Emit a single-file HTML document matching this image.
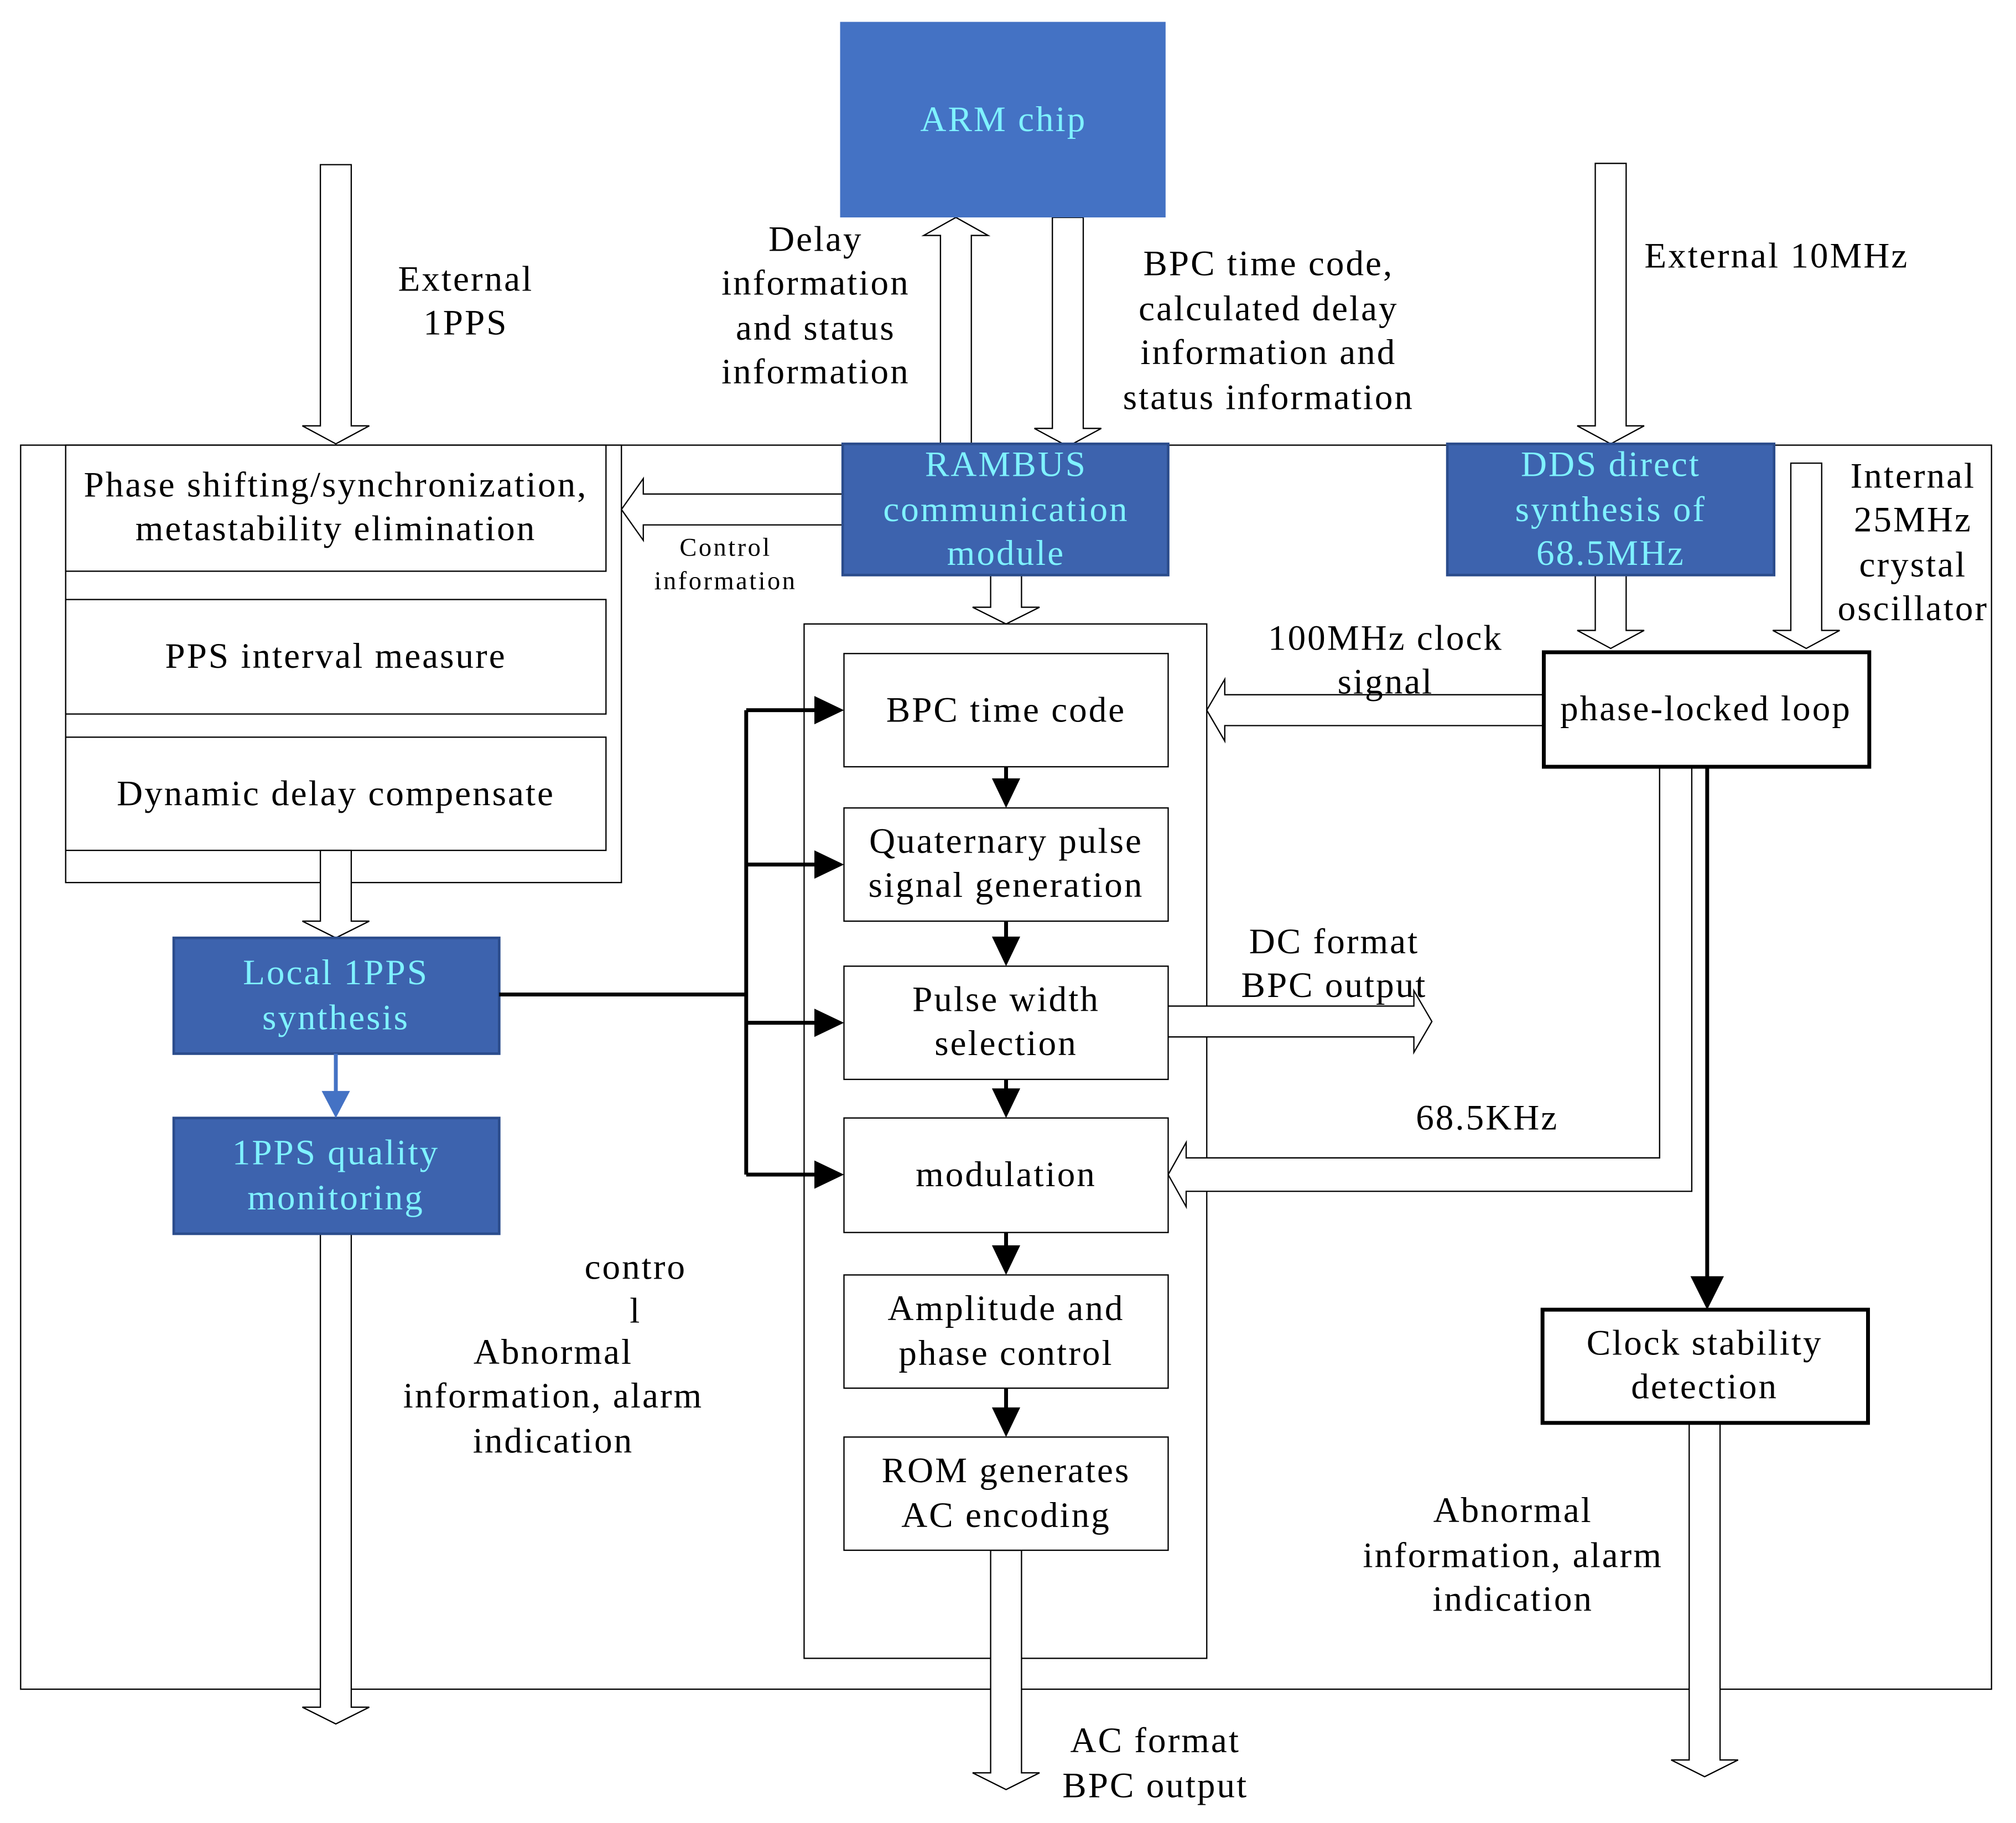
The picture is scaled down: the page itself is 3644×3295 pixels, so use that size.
<!DOCTYPE html>
<html><head><meta charset="utf-8"><style>html,body{margin:0;padding:0;background:#fff}svg{display:block}</style></head><body>
<svg xmlns="http://www.w3.org/2000/svg" width="3644" height="3295" viewBox="0 0 1567 1417" font-family="'Liberation Serif', serif" font-size="28" letter-spacing="1.3" text-anchor="middle">
<rect width="1567" height="1417" fill="#fff"/>
<g fill="#fff" stroke="#000" stroke-width="1">
<rect x="16" y="346" width="1532" height="967"/>
<rect x="625" y="485" width="313" height="804"/>
<rect x="51" y="346" width="432" height="340"/>
<rect x="51" y="346" width="420" height="98"/>
<rect x="51" y="466" width="420" height="89"/>
<rect x="51" y="573" width="420" height="88"/>
<path d="M249,128 H273 V331 H287 L261,345 L235,331 H249 Z"/>
<path d="M818,169 H842 V333 H856 L830,347 L804,333 H818 Z"/>
<path d="M1240,127 H1264 V331 H1278 L1252,345 L1226,331 H1240 Z"/>
<path d="M1392,360 H1416 V490 H1430 L1404,504 L1378,490 H1392 Z"/>
<path d="M1240,447 H1264 V490 H1278 L1252,504 L1226,490 H1240 Z"/>
<path d="M770,447 H794 V472 H808 L782,485 L756,472 H770 Z"/>
<path d="M249,661 H273 V716 H287 L261,729 L235,716 H249 Z"/>
<path d="M249,959 H273 V1327 H287 L261,1340 L235,1327 H249 Z"/>
<path d="M770,1205 H794 V1378 H808 L782,1391 L756,1378 H770 Z"/>
<path d="M1313,1106 H1337 V1368 H1351 L1325,1381 L1299,1368 H1313 Z"/>
<path d="M731,345 H755 V183 H768 L743,169 L718,183 H731 Z"/>
<path d="M655,384 V408 H500 V420 L483,396 L500,372 V384 Z"/>
<path d="M1200,540 V564 H952 V576 L938,552 L952,528 V540 Z"/>
<path d="M908,782 H1099 V770 L1113,794 L1099,818 V806 H908"/>
<path d="M1290,597 V900 H922 V888 L908,913 L922,938 V926 H1315 V597"/>
</g>
<rect x="653" y="17" width="253" height="152" fill="#4472C4"/>
<text x="780" y="102" fill="#7FF2FF">ARM chip</text>
<g fill="#3D63AE" stroke="#2B4C8C" stroke-width="2">
<rect x="655" y="345" width="253" height="102"/>
<rect x="1125" y="345" width="254" height="102"/>
<rect x="135" y="729" width="253" height="90"/>
<rect x="135" y="869" width="253" height="90"/>
</g>
<g fill="#7FF2FF">
<text x="782" y="370">RAMBUS</text><text x="782" y="405">communication</text><text x="782" y="439">module</text>
<text x="1252" y="370">DDS direct</text><text x="1252" y="405">synthesis of</text><text x="1252" y="439">68.5MHz</text>
<text x="261" y="765">Local 1PPS</text><text x="261" y="800">synthesis</text>
<text x="261" y="905">1PPS quality</text><text x="261" y="940">monitoring</text>
</g>
<line x1="261" y1="819" x2="261" y2="852" stroke="#4472C4" stroke-width="3"/>
<path d="M250,848 L272,848 L261,869 Z" fill="#4472C4"/>
<g fill="#fff" stroke="#000" stroke-width="1">
<rect x="656" y="508" width="252" height="88"/>
<rect x="656" y="628" width="252" height="88"/>
<rect x="656" y="751" width="252" height="88"/>
<rect x="656" y="869" width="252" height="89"/>
<rect x="656" y="991" width="252" height="88"/>
<rect x="656" y="1117" width="252" height="88"/>
</g>
<rect x="1200" y="507" width="253" height="89" fill="#fff" stroke="#000" stroke-width="3"/>
<rect x="1199" y="1018" width="253" height="88" fill="#fff" stroke="#000" stroke-width="3"/>
<g stroke="#000" stroke-width="3" fill="none">
<line x1="782" y1="596" x2="782" y2="612"/><line x1="782" y1="716" x2="782" y2="735"/>
<line x1="782" y1="839" x2="782" y2="853"/><line x1="782" y1="958" x2="782" y2="975"/>
<line x1="782" y1="1079" x2="782" y2="1101"/>
<line x1="388" y1="773" x2="580" y2="773"/><line x1="580" y1="552" x2="580" y2="913"/>
<line x1="580" y1="552" x2="640" y2="552"/><line x1="580" y1="672" x2="640" y2="672"/>
<line x1="580" y1="795" x2="640" y2="795"/><line x1="580" y1="913" x2="640" y2="913"/>
<line x1="1327" y1="596" x2="1327" y2="995"/>
</g>
<g fill="#000">
<path d="M771,605 L793,605 L782,628 Z"/><path d="M771,728 L793,728 L782,751 Z"/>
<path d="M771,846 L793,846 L782,869 Z"/><path d="M771,968 L793,968 L782,991 Z"/>
<path d="M771,1094 L793,1094 L782,1117 Z"/>
<path d="M633,541 L656,552 L633,563 Z"/><path d="M633,661 L656,672 L633,683 Z"/>
<path d="M633,784 L656,795 L633,806 Z"/><path d="M633,902 L656,913 L633,924 Z"/>
<path d="M1314,992 L1340,992 L1327,1018 Z"/>
</g>
<g fill="#000">
<text x="261" y="386">Phase shifting/synchronization,</text><text x="261" y="420">metastability elimination</text>
<text x="261" y="519">PPS interval measure</text>
<text x="261" y="626">Dynamic delay compensate</text>
<text x="782" y="561">BPC time code</text>
<text x="782" y="663">Quaternary pulse</text><text x="782" y="697">signal generation</text>
<text x="782" y="786">Pulse width</text><text x="782" y="820">selection</text>
<text x="782" y="922">modulation</text>
<text x="782" y="1026">Amplitude and</text><text x="782" y="1061">phase control</text>
<text x="782" y="1152">ROM generates</text><text x="782" y="1187">AC encoding</text>
<text x="1326" y="560">phase-locked loop</text>
<text x="1325" y="1053">Clock stability</text><text x="1325" y="1087">detection</text>
<text x="362" y="226">External</text><text x="362" y="260">1PPS</text>
<text x="634" y="195">Delay</text><text x="634" y="229">information</text><text x="634" y="264">and status</text><text x="634" y="298">information</text>
<text x="986" y="214">BPC time code,</text><text x="986" y="249">calculated delay</text><text x="986" y="283">information and</text><text x="986" y="318">status information</text>
<text x="1381" y="208">External 10MHz</text>
<text x="1487" y="379">Internal</text><text x="1487" y="413">25MHz</text><text x="1487" y="448">crystal</text><text x="1487" y="482">oscillator</text>
<text x="564" y="432" font-size="20" letter-spacing="1.5">Control</text><text x="564" y="458" font-size="20" letter-spacing="1.5">information</text>
<text x="1077" y="505">100MHz clock</text><text x="1077" y="539">signal</text>
<text x="1037" y="741">DC format</text><text x="1037" y="775">BPC output</text>
<text x="1156" y="878">68.5KHz</text>
<text x="494" y="994">contro</text><text x="494" y="1028">l</text>
<text x="430" y="1060">Abnormal</text><text x="430" y="1094">information, alarm</text><text x="430" y="1129">indication</text>
<text x="1176" y="1183">Abnormal</text><text x="1176" y="1218">information, alarm</text><text x="1176" y="1252">indication</text>
<text x="898" y="1362">AC format</text><text x="898" y="1397">BPC output</text>
</g>
</svg>
</body></html>
